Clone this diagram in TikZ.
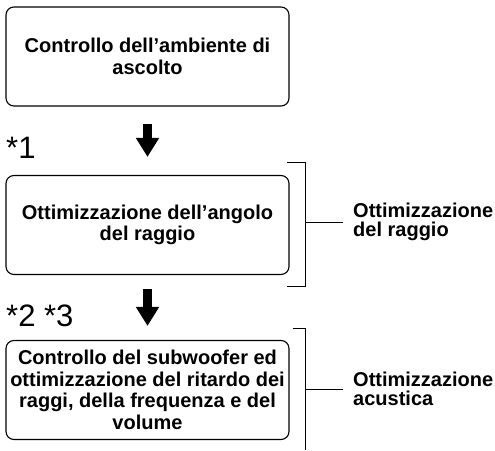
\documentclass[tikz,border=0pt]{standalone}
\usepackage{fontspec}
\setmainfont{Liberation Sans}
\usetikzlibrary{arrows.meta,positioning}

\begin{document}
\begin{tikzpicture}[x=1pt, y=-1pt, every node/.style={font=\fontsize{20}{21.5}\selectfont\bfseries},
	stepbox/.style={draw, line width=1.1pt, rounded corners=8pt, minimum width=283pt, minimum height=99pt, align=center, inner sep=0pt},
	flowarrow/.style={line width=9pt, -{Triangle[length=19pt, width=22pt]}},
	notelabel/.style={font=\fontsize{31}{31}\selectfont, anchor=base west, inner sep=0pt},
	grouplabel/.style={font=\fontsize{20}{19.5}\selectfont\bfseries, align=left, inner xsep=10pt, inner ysep=0pt},
	bracket/.style={line width=1pt}]
	\useasboundingbox (0,0) rectangle (495,450);
	\node[stepbox] (env) at (147.5,56.5) {Controllo dell'ambiente di\\ascolto};
	\node[stepbox] (angle) at (147.5,225) {Ottimizzazione dell'angolo\\del raggio};
	\node[stepbox] (sub) at (147.5,390) {Controllo del subwoofer ed\\ottimizzazione del ritardo dei\\raggi, della frequenza e del\\volume};
	\draw[flowarrow, shorten <=17pt, shorten >=18pt] (env.south) -- (angle.north);
	\draw[flowarrow, shorten <=14pt, shorten >=14pt] (angle.south) -- (sub.north);
	\node[notelabel] (star1) at (6,158) {*1};
	\node[notelabel] (star23) at (6,326) {*2 *3};
	\coordinate (b1t) at (305,162);
	\coordinate (b1m) at (305,222);
	\coordinate (b1b) at (305,286);
	\draw[bracket] ([xshift=-18pt]b1t) -- (b1t) -- (b1b) -- ([xshift=-18pt]b1b);
	\node[grouplabel, right=38pt of b1m] (beam) {Ottimizzazione\\del raggio};
	\draw[bracket] (b1m) -- (beam.west);
	\coordinate (b2t) at (305,328);
	\coordinate (b2m) at (305,389);
	\coordinate (b2b) at (305,450);
	\draw[bracket] ([xshift=-12pt]b2t) -- (b2t) -- (b2b);
	\node[grouplabel, right=38pt of b2m] (sound) {Ottimizzazione\\acustica};
	\draw[bracket] (b2m) -- (sound.west);
\end{tikzpicture}
\end{document}
